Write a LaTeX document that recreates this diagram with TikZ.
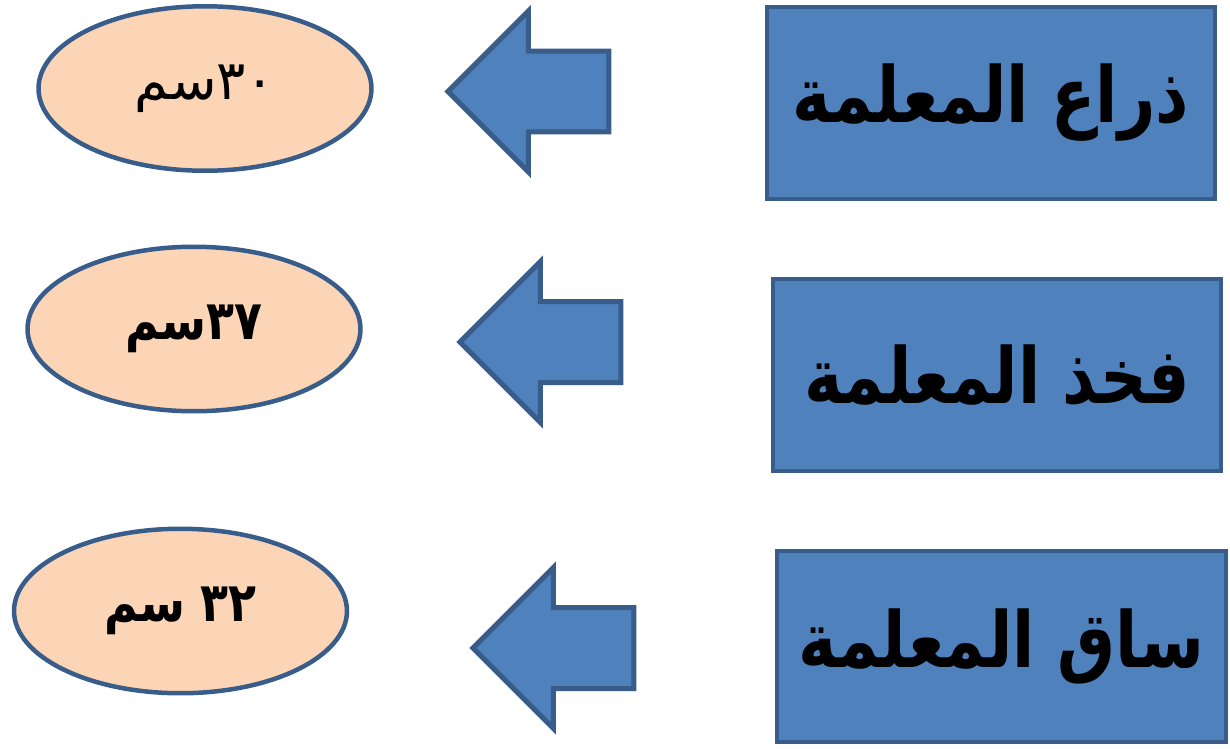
\documentclass[tikz,border=0pt]{standalone}
\usepackage{fontspec}
\usetikzlibrary{shapes.geometric,shapes.arrows}
\newfontfamily\arabicfont[Script=Arabic,BoldFeatures={FakeStretch=0.84}]{DejaVu Sans}
\TeXXeTstate=1
\definecolor{boxblue}{HTML}{4F81BD}
\definecolor{edgeblue}{HTML}{385D8A}
\definecolor{peach}{HTML}{FBD5B5}
\tikzset{
  partbox/.style={draw=edgeblue, fill=boxblue, line width=0.08cm,
    minimum width=8.98cm, minimum height=3.84cm,
    font=\arabicfont\bfseries\fontsize{44}{50}\selectfont},
  sizeoval/.style={ellipse, draw=edgeblue, fill=peach, line width=0.09cm,
    minimum width=6.66cm, minimum height=3.29cm,
    font=\arabicfont\fontsize{31}{36}\selectfont},
  leftarrow/.style={single arrow, shape border rotate=180, draw=edgeblue,
    fill=boxblue, line width=0.1cm, inner xsep=0pt, inner ysep=0.76cm,
    minimum height=3.22cm, minimum width=0pt,
    single arrow head extend=0.8cm, outer sep=0pt, anchor=tip}
}
\begin{document}
\begin{tikzpicture}[x=0.02cm, y=-0.02cm]
  \useasboundingbox (0,0) rectangle (1230,748);

  % Parts of the doll
  \node[partbox] (arm) at (991,103) {\beginR ذراع المعلمة\endR};
  \node[partbox] (thigh) at (997,375) {\beginR فخذ المعلمة\endR};
  \node[partbox] (shin) at (1001.5,646.5) {\beginR ساق المعلمة\endR};

  % Lengths
  \node[sizeoval] (armlen) at (205,88.5) {\beginR ٣٠سم\endR};
  \node[sizeoval] (thighlen) at (194,329) {\bfseries\beginR ٣٧سم\endR};
  \node[sizeoval] (shinlen) at (180.5,611) {\bfseries\beginR ٣٢ سم\endR};

  % Arrows from each part to its length
  \node[leftarrow] (armarrow) at (448,91.5) {};
  \node[leftarrow] (thigharrow) at (460,342) {};
  \node[leftarrow] (shinarrow) at (473,648) {};
\end{tikzpicture}
\end{document}
